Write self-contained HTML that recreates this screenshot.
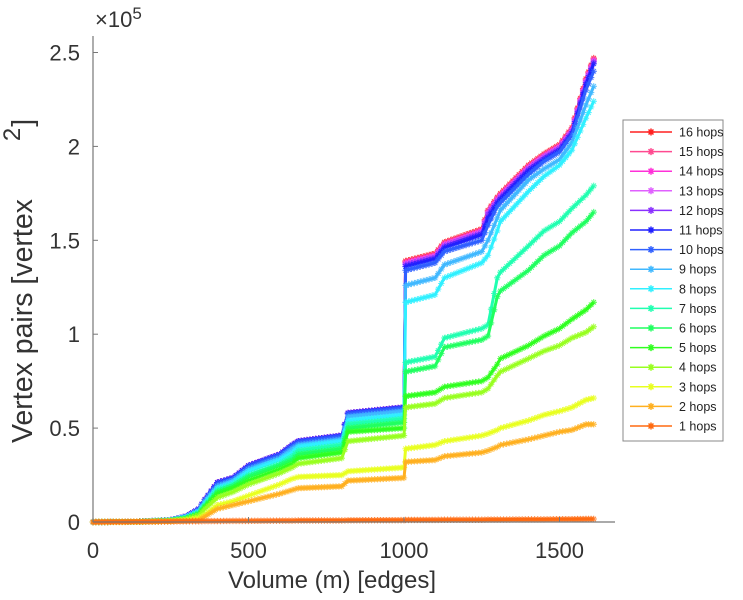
<!DOCTYPE html>
<html><head><meta charset="utf-8"><style>
html,body{margin:0;padding:0;background:#fff;}
svg{display:block;font-family:"Liberation Sans",sans-serif;}
</style></head><body>
<svg id="chart" width="743" height="600" viewBox="0 0 743 600">
<g id="series-layer"></g>
<g id="axes">
<line x1="93" y1="36" x2="93" y2="522" stroke="#777" stroke-width="1.2"/>
<line x1="93" y1="522" x2="615" y2="522" stroke="#777" stroke-width="1.2"/>
</g>
<g id="ticks"></g>
<text x="95" y="27" font-size="22" fill="#333">×10<tspan dy="-8" font-size="17">5</tspan></text>
<text x="332" y="588" font-size="24" fill="#333" text-anchor="middle">Volume (m) [edges]</text>
<text transform="translate(32,443) rotate(-90)" font-size="28.5" fill="#333">Vertex pairs [vertex<tspan dx="58" dy="-12" font-size="24">2</tspan><tspan dx="1" dy="12">]</tspan></text>
<g id="legend">
<rect x="623" y="120" width="100" height="321" fill="#fff" stroke="#888" stroke-width="1"/>
</g>
</svg>
<script>
const xs = [0,150,250,300,340,360,400,450,500,600,640,660,800,820,1000,1005,1100,1130,1250,1270,1300,1310,1400,1450,1500,1540,1585,1610];
const h16 = [0,0.002,0.01,0.03,0.07,0.12,0.21,0.235,0.3,0.36,0.41,0.43,0.46,0.58,0.61,1.39,1.43,1.49,1.56,1.66,1.73,1.75,1.9,1.96,2.01,2.1,2.36,2.47];
const h15 = [0,0.002,0.01,0.03,0.07,0.12,0.21,0.235,0.3,0.36,0.41,0.43,0.46,0.58,0.61,1.385,1.425,1.485,1.555,1.655,1.725,1.745,1.895,1.955,2.005,2.095,2.355,2.465];
const h14 = [0,0.002,0.01,0.03,0.07,0.12,0.21,0.235,0.3,0.36,0.41,0.43,0.46,0.58,0.61,1.38,1.42,1.48,1.55,1.65,1.72,1.74,1.89,1.95,2.0,2.09,2.35,2.46];
const h13 = [0,0.002,0.01,0.03,0.07,0.12,0.21,0.235,0.3,0.36,0.41,0.43,0.46,0.58,0.61,1.375,1.415,1.475,1.545,1.645,1.715,1.735,1.885,1.945,1.995,2.085,2.345,2.455];
const h12 = [0,0.002,0.01,0.03,0.07,0.12,0.21,0.235,0.3,0.36,0.41,0.43,0.46,0.58,0.61,1.37,1.41,1.47,1.54,1.64,1.71,1.73,1.88,1.94,1.99,2.08,2.34,2.45];
const h11 = [0,0.002,0.01,0.03,0.07,0.12,0.21,0.235,0.3,0.36,0.41,0.43,0.46,0.58,0.61,1.36,1.4,1.46,1.53,1.62,1.7,1.72,1.87,1.93,1.98,2.07,2.33,2.44];
const h10 = [0,0.002,0.01,0.03,0.068,0.118,0.205,0.23,0.295,0.355,0.405,0.425,0.455,0.575,0.605,1.34,1.38,1.44,1.5,1.58,1.68,1.7,1.85,1.92,1.97,2.06,2.3,2.4];
const h9 = [0,0.002,0.01,0.028,0.06,0.11,0.19,0.22,0.28,0.34,0.39,0.41,0.44,0.56,0.59,1.26,1.3,1.37,1.44,1.5,1.62,1.66,1.82,1.88,1.93,2.02,2.22,2.32];
const h8 = [0,0.002,0.009,0.025,0.055,0.1,0.18,0.21,0.27,0.33,0.37,0.4,0.43,0.54,0.57,1.17,1.21,1.3,1.38,1.42,1.55,1.6,1.76,1.84,1.9,1.98,2.15,2.24];
const h7 = [0,0.002,0.008,0.022,0.05,0.09,0.17,0.2,0.25,0.31,0.35,0.38,0.41,0.52,0.55,0.85,0.88,0.98,1.03,1.05,1.3,1.33,1.47,1.55,1.6,1.67,1.74,1.79];
const h6 = [0,0.002,0.008,0.02,0.045,0.085,0.16,0.19,0.24,0.3,0.33,0.36,0.39,0.5,0.53,0.8,0.83,0.93,0.97,0.99,1.2,1.23,1.34,1.42,1.47,1.54,1.6,1.65];
const h5 = [0,0.002,0.007,0.018,0.04,0.08,0.15,0.18,0.22,0.28,0.31,0.34,0.37,0.48,0.5,0.67,0.69,0.72,0.75,0.77,0.84,0.87,0.94,0.99,1.03,1.08,1.13,1.17];
const h4 = [0,0.002,0.006,0.015,0.035,0.07,0.13,0.16,0.2,0.26,0.29,0.31,0.34,0.43,0.46,0.61,0.63,0.66,0.69,0.71,0.78,0.8,0.87,0.91,0.94,0.98,1.01,1.04];
const h3 = [0,0.001,0.005,0.01,0.02,0.04,0.09,0.11,0.14,0.2,0.23,0.24,0.25,0.27,0.29,0.39,0.41,0.43,0.46,0.47,0.49,0.5,0.54,0.57,0.59,0.61,0.65,0.66];
const h2 = [0,0.001,0.003,0.006,0.01,0.03,0.07,0.09,0.11,0.15,0.17,0.18,0.19,0.22,0.235,0.32,0.33,0.35,0.37,0.38,0.4,0.41,0.44,0.46,0.48,0.49,0.52,0.52];
const h1 = [0,0.002,0.003,0.004,0.004,0.005,0.005,0.006,0.006,0.007,0.007,0.008,0.008,0.009,0.01,0.011,0.011,0.012,0.012,0.013,0.013,0.013,0.014,0.014,0.015,0.015,0.016,0.016];
const seriesLabels = ["16 hops","15 hops","14 hops","13 hops","12 hops","11 hops","10 hops","9 hops","8 hops","7 hops","6 hops","5 hops","4 hops","3 hops","2 hops","1 hops"];
const seriesValues = [h16,h15,h14,h13,h12,h11,h10,h9,h8,h7,h6,h5,h4,h3,h2,h1];
const seriesColors = ["#ff2020","#ff4a90","#ff30d8","#e060ff","#8a30ff","#2020ff","#3060ff","#40b8ff","#30f0ff","#20ffb0","#20ff60","#30ff20","#98ff20","#e8ff20","#ffb020","#ff6a10"];
const xTicks = [0,500,1000,1500];
const yTicks = [0,0.5,1,1.5,2,2.5];
const yTickLabels = ["0","0.5","1","1.5","2","2.5"];

const NS = "http://www.w3.org/2000/svg";
const xScale = v => 93 + v * 0.311;
const yScale = v => 522 - v * 187.8;

function mk(tag, attrs, parent) {
  const e = document.createElementNS(NS, tag);
  for (const k in attrs) e.setAttribute(k, attrs[k]);
  parent.appendChild(e);
  return e;
}
function starPath(cx, cy, r) {
  let d = "";
  for (let i = 0; i < 4; i++) {
    const a = i * Math.PI / 4;
    const dx = r * Math.cos(a), dy = r * Math.sin(a);
    d += `M${cx - dx},${cy - dy}L${cx + dx},${cy + dy}`;
  }
  return d;
}

const layer = document.getElementById("series-layer");
seriesValues.forEach((vals, si) => {
  const g = mk("g", {}, layer);
  
  
  const pts = xs.map((x, i) => xScale(x).toFixed(1) + "," + yScale(vals[i]).toFixed(1)).join(" ");
  const pl = mk("polyline", {points: pts, fill: "none", stroke: seriesColors[si], "stroke-width": 3, "stroke-linejoin": "round"}, g);
  
  
  let d = "";
  for (let i = 0; i < xs.length - 1; i++) {
    const px = xScale(xs[i+1]) - xScale(xs[i]);
    const n = Math.max(1, Math.round(px / 3));
    for (let k = 0; k < n; k++) {
      const t = k / n;
      const x = xs[i] + (xs[i+1] - xs[i]) * t;
      const y = vals[i] + (vals[i+1] - vals[i]) * t;
      d += starPath(xScale(x), yScale(y), 3.2);
    }
  }
  d += starPath(xScale(xs[xs.length-1]), yScale(vals[vals.length-1]), 3.2);
  const mp = mk("path", {d: d, stroke: seriesColors[si], "stroke-width": 1.1, fill: "none", opacity: 0.8}, g);
  
  
});

const tg = document.getElementById("ticks");
xTicks.forEach(v => {
  const t = mk("line", {x1: xScale(v), x2: xScale(v), y1: 522, y2: 517, stroke: "#777"}, tg);
  
  
  const l = mk("text", {x: xScale(v), y: 558, "font-size": 22, fill: "#333", "text-anchor": "middle"}, tg);
  l.textContent = String(v);
  
  
});
yTicks.forEach((v, i) => {
  const t = mk("line", {x1: 93, x2: 98, y1: yScale(v), y2: yScale(v), stroke: "#777"}, tg);
  
  
  const l = mk("text", {x: 80, y: yScale(v) + 8, "font-size": 22, fill: "#333", "text-anchor": "end"}, tg);
  l.textContent = yTickLabels[i];
  
  
});

const lg = document.getElementById("legend");
seriesLabels.forEach((lab, i) => {
  const y = 132 + i * 19.6;
  const g = mk("g", {}, lg);
  
  
  mk("line", {x1: 630, x2: 672, y1: y, y2: y, stroke: seriesColors[i], "stroke-width": 1.5}, g);
  mk("path", {d: starPath(651, y, 3.5), stroke: seriesColors[i], "stroke-width": 1.5}, g);
  const t = mk("text", {x: 679, y: y + 4.5, "font-size": 12.5, fill: "#222"}, g);
  t.textContent = lab;
});
</script>
</body></html>
